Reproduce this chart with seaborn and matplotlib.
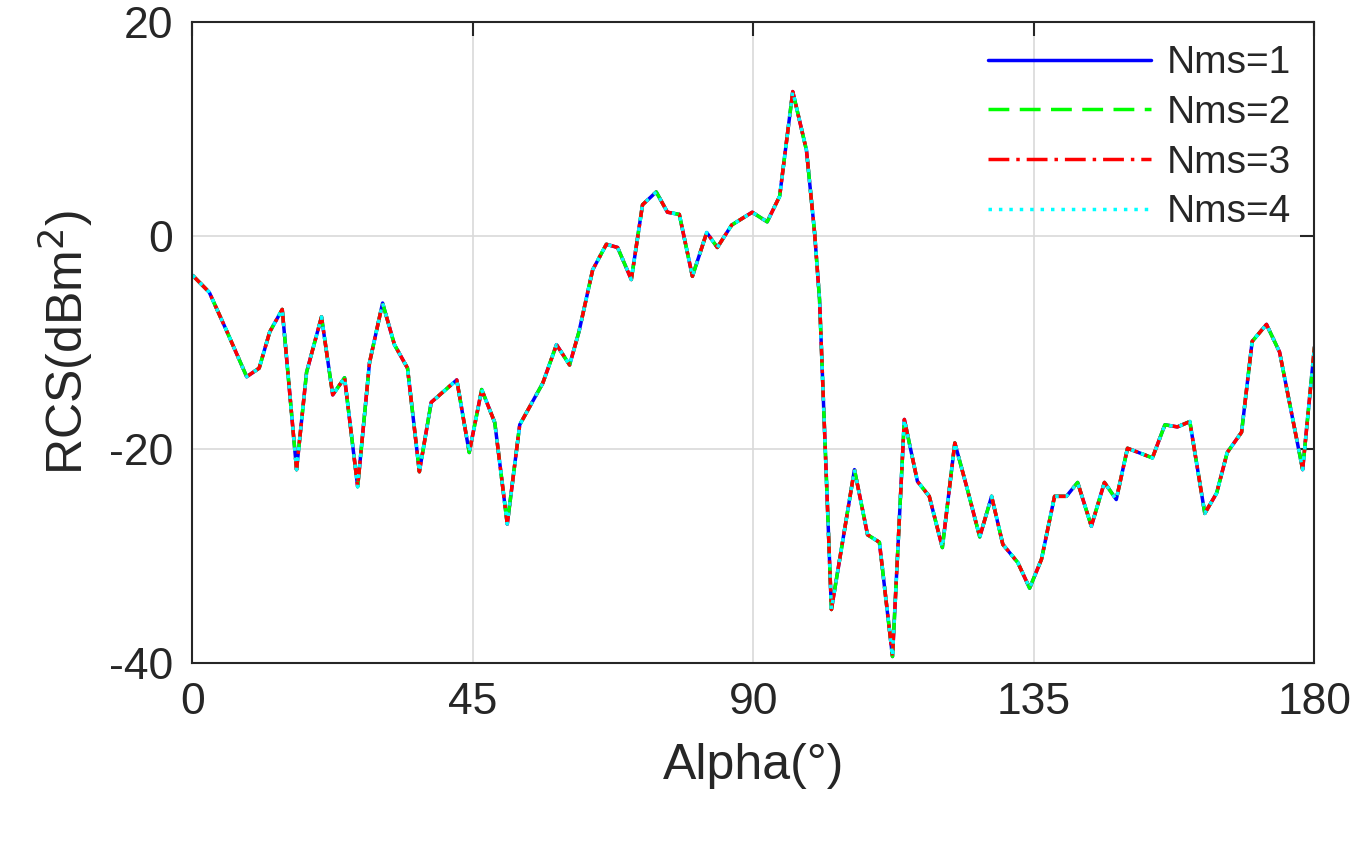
import pandas as pd
import matplotlib
matplotlib.use("Agg")
import matplotlib.pyplot as plt
import seaborn as sns

alpha = [0, 2.7, 5.4, 8.7, 10.7, 12.4, 14.4, 16.7, 18.3, 20.7, 22.5, 24.4, 26.5, 28.4,
         30.5, 32.4, 34.5, 36.4, 38.3, 42.4, 44.4, 46.4, 48.5, 50.5, 52.5, 56.2, 58.4,
         60.5, 62.0, 64.2, 66.4, 68.2, 70.4, 72.2, 74.4, 76.2, 78.1, 80.2, 82.5, 84.2,
         86.5, 89.8, 92.2, 94.2, 96.3, 98.5, 99.8, 100.6, 102.5, 106.2, 108.3, 110.2,
         112.3, 114.2, 116.3, 118.2, 120.3, 122.3, 124.2, 126.3, 128.2, 130.0, 132.4,
         134.3, 136.2, 138.3, 140.2, 142.0, 144.2, 146.3, 148.2, 150.0, 154.0, 156.0,
         158.0, 160.0, 162.4, 164.3, 166.0, 168.3, 170.0, 172.3, 174.4, 178.1, 180.0]
rcs = [-3.7, -5.3, -8.8, -13.2, -12.4, -9.0, -6.9, -21.9, -12.8, -7.6, -14.9, -13.3,
       -23.5, -11.9, -6.3, -10.2, -12.4, -22.1, -15.6, -13.5, -20.3, -14.4, -17.5, -27.0,
       -17.7, -13.8, -10.2, -12.1, -9.0, -3.2, -0.8, -1.1, -4.1, 2.9, 4.1, 2.2, 2.0, -3.8,
       0.3, -1.1, 1.0, 2.2, 1.3, 3.7, 13.5, 8.0, 0.3, -6.0, -35.0, -21.9, -28.0, -28.7,
       -39.4, -17.2, -23.0, -24.4, -29.2, -19.4, -23.5, -28.2, -24.4, -28.9, -30.6, -33.0,
       -30.3, -24.4, -24.4, -23.1, -27.2, -23.1, -24.7, -19.9, -20.8, -17.7, -17.9, -17.4,
       -26.0, -24.1, -20.3, -18.4, -9.9, -8.3, -10.9, -21.9, -10.4]

series_names = ["Nms=1", "Nms=2", "Nms=3", "Nms=4"]
colors = ["#0000ff", "#00ff00", "#ff0000", "#00ffff"]
styles = ["-", (0, (6, 3)), (0, (6, 2, 1, 2)), (0, (1, 2))]

sns.set_style("white")
plt.rcParams["font.family"] = ["Liberation Sans", "DejaVu Sans"]
plt.rcParams["axes.unicode_minus"] = False

fig = plt.figure(figsize=(13.65, 8.51), dpi=100)
ax = fig.add_axes([0.141, 0.221, 0.822, 0.753])

df = pd.DataFrame({"alpha": alpha, "rcs": rcs})
for name, c, ls in zip(series_names, colors, styles):
    sns.lineplot(data=df, x="alpha", y="rcs", ax=ax, color=c, lw=2.5,
                 linestyle=ls, label=name)

ax.set_xlim(0, 180)
ax.set_ylim(-40, 20)
ax.set_xticks([0, 45, 90, 135, 180])
ax.set_yticks([-40, -20, 0, 20])
ax.grid(True, color="#d9d9d9", lw=1.2)
for s in ax.spines.values():
    s.set_color("#262626")
    s.set_linewidth(1.5)
ax.tick_params(labelsize=32, labelcolor="#262626", direction="in", length=10,
               width=1.5, top=True, right=True, pad=14)
ax.set_xlabel("Alpha(°)", fontsize=36, color="#262626", labelpad=14)
ax.set_ylabel("RCS(dBm$^2$)", fontsize=36, color="#262626", labelpad=10)

leg = ax.legend(loc="upper right", frameon=False, fontsize=28, handlelength=4.2,
                labelspacing=0.35, handletextpad=0.4, borderaxespad=0.2)
for t in leg.get_texts():
    t.set_color("#262626")

fig.savefig("out.png", dpi=100)
